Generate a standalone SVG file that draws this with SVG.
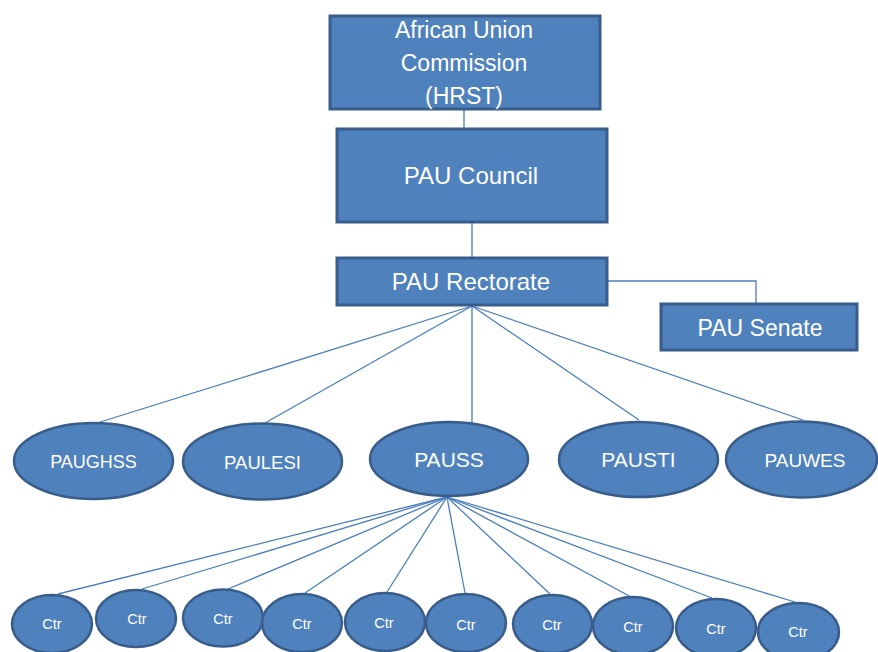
<svg xmlns="http://www.w3.org/2000/svg" width="878" height="652" viewBox="0 0 878 652">
<style>
.box{fill:#4f81bd;stroke:#385d8a;stroke-width:3}
.ell{fill:#4f81bd;stroke:#385d8a;stroke-width:2.5}
.lbl{fill:#ffffff;font-family:"Liberation Sans",Arial,sans-serif;text-anchor:middle}
.ctr{font-size:14.5px}
.conn line,.conn polyline{stroke:#4a7ebb;stroke-width:1.3;fill:none}
</style>
<rect width="878" height="652" fill="#ffffff"/>
<g class="conn" id="connectors">
<line x1="464" y1="109" x2="464" y2="128"/>
<line x1="472" y1="222" x2="472" y2="257"/>
<polyline points="608,281 756,281 756,303"/>
<line x1="472" y1="306" x2="97" y2="423"/>
<line x1="472" y1="306" x2="265" y2="423"/>
<line x1="472" y1="306" x2="472" y2="423"/>
<line x1="472" y1="306" x2="639" y2="420"/>
<line x1="472" y1="306" x2="803" y2="420"/>
<line x1="447" y1="497" x2="58" y2="594"/>
<line x1="447" y1="497" x2="142" y2="589"/>
<line x1="447" y1="497" x2="228" y2="589"/>
<line x1="447" y1="497" x2="305" y2="593"/>
<line x1="447" y1="497" x2="387" y2="592"/>
<line x1="447" y1="497" x2="465" y2="593"/>
<line x1="447" y1="497" x2="550" y2="594"/>
<line x1="447" y1="497" x2="631" y2="597"/>
<line x1="447" y1="497" x2="712" y2="598"/>
<line x1="447" y1="497" x2="795" y2="602"/>
</g>
<g id="auc"><rect class="box" x="330" y="16" width="270" height="93"/>
<text class="lbl" font-size="23" x="464" y="38">African Union</text>
<text class="lbl" font-size="23" x="464" y="71">Commission</text>
<text class="lbl" font-size="23" x="464" y="104">(HRST)</text></g>
<g id="council"><rect class="box" x="337" y="129" width="270" height="93"/>
<text class="lbl" font-size="24" x="471" y="184">PAU Council</text></g>
<g id="rectorate"><rect class="box" x="337" y="258" width="270" height="47"/>
<text class="lbl" font-size="24" x="471" y="290">PAU Rectorate</text></g>
<g id="senate"><rect class="box" x="661" y="304" width="196" height="46"/>
<text class="lbl" font-size="23" x="760" y="336">PAU Senate</text></g>
<g id="paughss"><ellipse class="ell" cx="93.5" cy="461" rx="79.5" ry="38"/>
<text class="lbl" font-size="18" x="93.5" y="468">PAUGHSS</text></g>
<g id="paulesi"><ellipse class="ell" cx="262.5" cy="461.5" rx="79.5" ry="38"/>
<text class="lbl" font-size="18.5" x="262.5" y="468.5">PAULESI</text></g>
<g id="pauss"><ellipse class="ell" cx="449" cy="459" rx="79" ry="37"/>
<text class="lbl" font-size="21" x="449" y="467">PAUSS</text></g>
<g id="pausti"><ellipse class="ell" cx="638.5" cy="459.5" rx="79.5" ry="37.5"/>
<text class="lbl" font-size="21" x="638.5" y="467">PAUSTI</text></g>
<g id="pauwes"><ellipse class="ell" cx="801.5" cy="459.5" rx="75.5" ry="38"/>
<text class="lbl" font-size="19" x="805" y="466.5">PAUWES</text></g>
<g id="ctr1"><ellipse class="ell" cx="52" cy="624" rx="40" ry="29"/><text class="lbl ctr" x="52" y="629">Ctr</text></g>
<g id="ctr2"><ellipse class="ell" cx="136" cy="618.5" rx="40" ry="28.5"/><text class="lbl ctr" x="137" y="624">Ctr</text></g>
<g id="ctr3"><ellipse class="ell" cx="223" cy="618" rx="40" ry="28.5"/><text class="lbl ctr" x="223" y="624">Ctr</text></g>
<g id="ctr4"><ellipse class="ell" cx="302" cy="623" rx="40" ry="29"/><text class="lbl ctr" x="302" y="629">Ctr</text></g>
<g id="ctr5"><ellipse class="ell" cx="385" cy="622" rx="40" ry="29"/><text class="lbl ctr" x="384" y="628">Ctr</text></g>
<g id="ctr6"><ellipse class="ell" cx="466" cy="623" rx="40" ry="29"/><text class="lbl ctr" x="466" y="630">Ctr</text></g>
<g id="ctr7"><ellipse class="ell" cx="552.5" cy="624" rx="39.5" ry="29"/><text class="lbl ctr" x="552" y="630">Ctr</text></g>
<g id="ctr8"><ellipse class="ell" cx="633" cy="626" rx="40" ry="29"/><text class="lbl ctr" x="633" y="632">Ctr</text></g>
<g id="ctr9"><ellipse class="ell" cx="716" cy="628" rx="40" ry="29"/><text class="lbl ctr" x="716" y="634">Ctr</text></g>
<g id="ctr10"><ellipse class="ell" cx="798.5" cy="632" rx="40.5" ry="29"/><text class="lbl ctr" x="798" y="637">Ctr</text></g>
</svg>
